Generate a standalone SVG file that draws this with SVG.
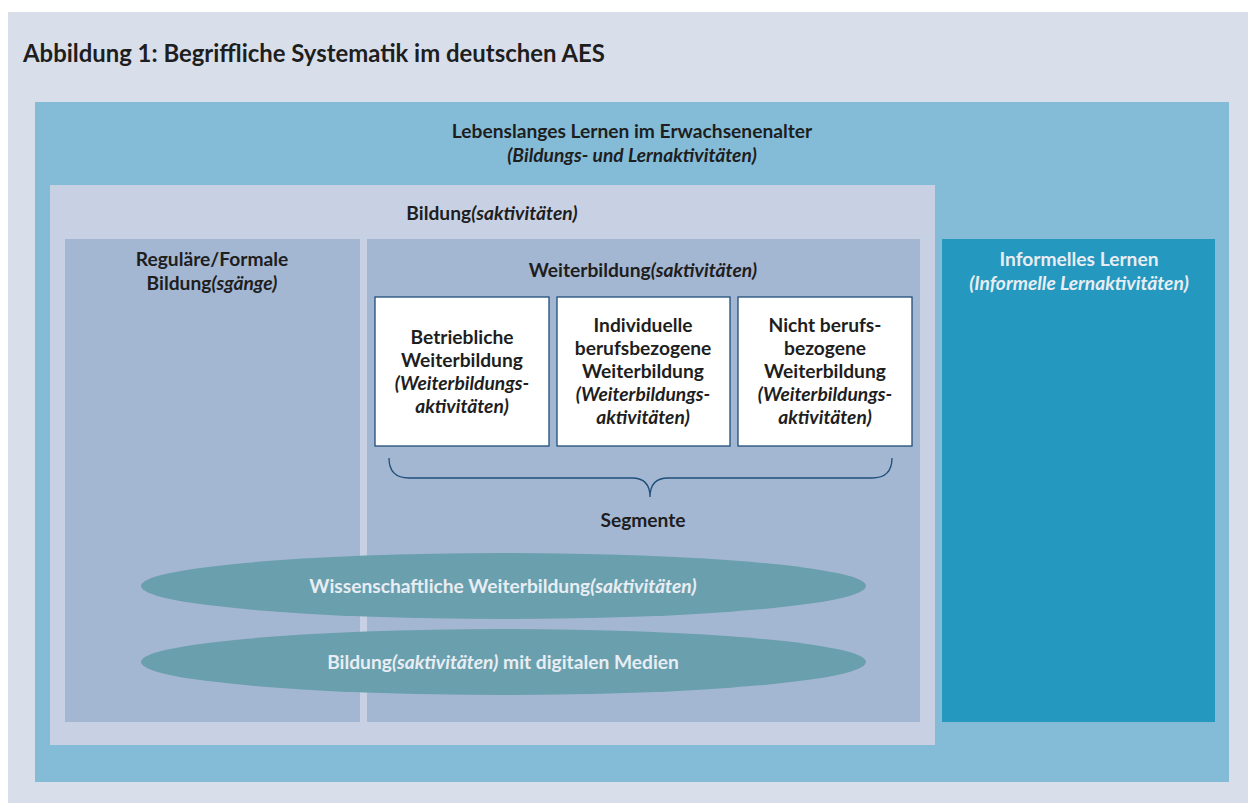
<svg xmlns="http://www.w3.org/2000/svg" width="1248" height="803" viewBox="0 0 1248 803">
<style>
text{font-family:Lato,"Open Sans","Liberation Sans",sans-serif;font-weight:bold;font-size:19.2px;fill:#1e1e1e;text-anchor:middle}
.i{font-style:italic}
.lt{fill:#e8edf4}
.seg{fill:#fff;stroke:#1f4e7a;stroke-width:1.3}
</style>
<rect x="0" y="0" width="1248" height="803" fill="#fff"/>
<rect x="8" y="12" width="1240" height="791" fill="#d9dfea"/>
<text x="23" y="62" style="text-anchor:start;font-size:23.9px">Abbildung 1: Begriffliche Systematik im deutschen AES</text>
<g id="lebenslanges">
<rect x="35" y="102" width="1194" height="680" fill="#84bcd8"/>
<text x="632" y="138">Lebenslanges Lernen im Erwachsenenalter</text>
<text x="632" y="162" class="i">(Bildungs- und Lernaktivitäten)</text>
</g>
<g id="bildung">
<rect x="50" y="185" width="885" height="560" fill="#c8d1e4"/>
<text x="492" y="220">Bildung<tspan class="i">(saktivitäten)</tspan></text>
</g>
<g id="formal">
<rect x="65" y="239" width="295" height="483" fill="#a4b7d2"/>
<text x="212" y="266">Reguläre/Formale</text>
<text x="212" y="290">Bildung<tspan class="i">(sgänge)</tspan></text>
</g>
<g id="weiterbildung">
<rect x="367" y="239" width="553" height="483" fill="#a4b7d2"/>
<text x="643" y="277">Weiterbildung<tspan class="i">(saktivitäten)</tspan></text>
</g>
<g id="informell">
<rect x="942" y="239" width="273" height="483" fill="#2498be"/>
<text x="1079" y="266" class="lt">Informelles Lernen</text>
<text x="1079" y="290" class="lt i">(Informelle Lernaktivitäten)</text>
</g>
<g id="betrieblich">
<rect class="seg" x="375" y="297" width="174" height="149"/>
<text x="462" y="344">Betriebliche</text>
<text x="462" y="367">Weiterbildung</text>
<text x="462" y="390" class="i">(Weiterbildungs-</text>
<text x="462" y="413" class="i">aktivitäten)</text>
</g>
<g id="individuell">
<rect class="seg" x="557" y="297" width="173" height="149"/>
<text x="643" y="332">Individuelle</text>
<text x="643" y="355">berufsbezogene</text>
<text x="643" y="378">Weiterbildung</text>
<text x="643" y="401" class="i">(Weiterbildungs-</text>
<text x="643" y="424" class="i">aktivitäten)</text>
</g>
<g id="nichtberuf">
<rect class="seg" x="738" y="297" width="174" height="149"/>
<text x="825" y="332">Nicht berufs-</text>
<text x="825" y="355">bezogene</text>
<text x="825" y="378">Weiterbildung</text>
<text x="825" y="401" class="i">(Weiterbildungs-</text>
<text x="825" y="424" class="i">aktivitäten)</text>
</g>
<g id="connectors">
<path d="M389 458 Q389 478 409 478 L632 478 Q650 478 650 497 Q650 478 668 478 L872 478 Q892 478 892 458" fill="none" stroke="#1f4e7a" stroke-width="1.3"/>
</g>
<g id="segmente">
<text x="643" y="527">Segmente</text>
</g>
<g id="wissenschaftlich">
<ellipse cx="503.5" cy="586" rx="362.5" ry="33" fill="#6aa0ad"/>
<text x="503" y="593" class="lt">Wissenschaftliche Weiterbildung<tspan class="i">(saktivitäten)</tspan></text>
</g>
<g id="digital">
<ellipse cx="503.5" cy="662" rx="362.5" ry="33" fill="#6aa0ad"/>
<text x="503" y="669" class="lt">Bildung<tspan class="i">(saktivitäten)</tspan> mit digitalen Medien</text>
</g>
</svg>
